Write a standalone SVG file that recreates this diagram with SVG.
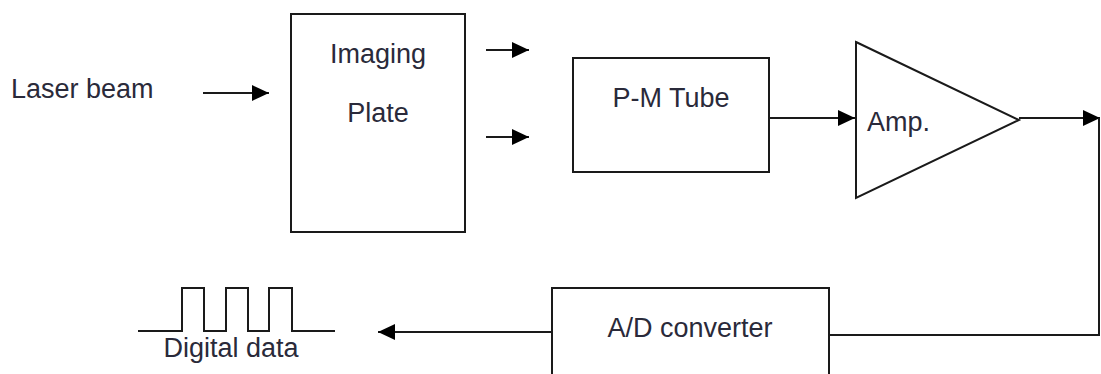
<svg xmlns="http://www.w3.org/2000/svg" width="1101" height="374" viewBox="0 0 1101 374">
  <style>
    .box { fill: #ffffff; stroke: #1a1a1a; stroke-width: 2; }
    .line { fill: none; stroke: #1a1a1a; stroke-width: 2; }
    .lbl { font-family: "Liberation Sans", Arial, sans-serif; font-size: 27px; fill: #2a2a3a; }
  </style>
  <defs>
    <marker id="arrow" markerUnits="userSpaceOnUse" markerWidth="18" markerHeight="17" refX="17" refY="8" orient="auto">
      <path d="M0,0 L17,8 L0,16 Z" fill="#000000"/>
    </marker>
  </defs>
  <rect width="1101" height="374" fill="#ffffff"/>

  <g id="laser-beam">
    <text class="lbl" x="11" y="98">Laser beam</text>
  </g>

  <g id="imaging-plate">
    <rect class="box" x="291" y="14" width="174" height="218"/>
    <text class="lbl" x="378" y="63" text-anchor="middle">Imaging</text>
    <text class="lbl" x="378" y="122" text-anchor="middle">Plate</text>
  </g>

  <g id="pm-tube">
    <rect class="box" x="573" y="58" width="196" height="114"/>
    <text class="lbl" x="671" y="107" text-anchor="middle">P-M Tube</text>
  </g>

  <g id="amp">
    <polygon class="box" points="856,42 1019,120 856,198"/>
    <text class="lbl" x="867" y="131">Amp.</text>
  </g>

  <g id="ad-converter">
    <rect class="box" x="552" y="288" width="277" height="110"/>
    <text class="lbl" x="690" y="337" text-anchor="middle">A/D converter</text>
  </g>

  <g id="digital-data">
    <polyline class="line" points="138,331 182,331 182,288 204,288 204,331 226,331 226,288 248,288 248,331 269,331 269,288 292,288 292,331 335,331"/>
    <text class="lbl" x="231" y="357" text-anchor="middle">Digital data</text>
  </g>

  <g id="connectors">
    <line class="line" x1="203" y1="93" x2="269" y2="93" marker-end="url(#arrow)"/>
    <line class="line" x1="486" y1="50" x2="529" y2="50" marker-end="url(#arrow)"/>
    <line class="line" x1="486" y1="137" x2="529" y2="137" marker-end="url(#arrow)"/>
    <line class="line" x1="769" y1="118" x2="855" y2="118" marker-end="url(#arrow)"/>
    <line class="line" x1="1019" y1="118" x2="1100" y2="118" marker-end="url(#arrow)"/>
    <polyline class="line" points="1099,118 1099,335 829,335"/>
    <line class="line" x1="552" y1="332" x2="378" y2="332" marker-end="url(#arrow)"/>
  </g>
</svg>
